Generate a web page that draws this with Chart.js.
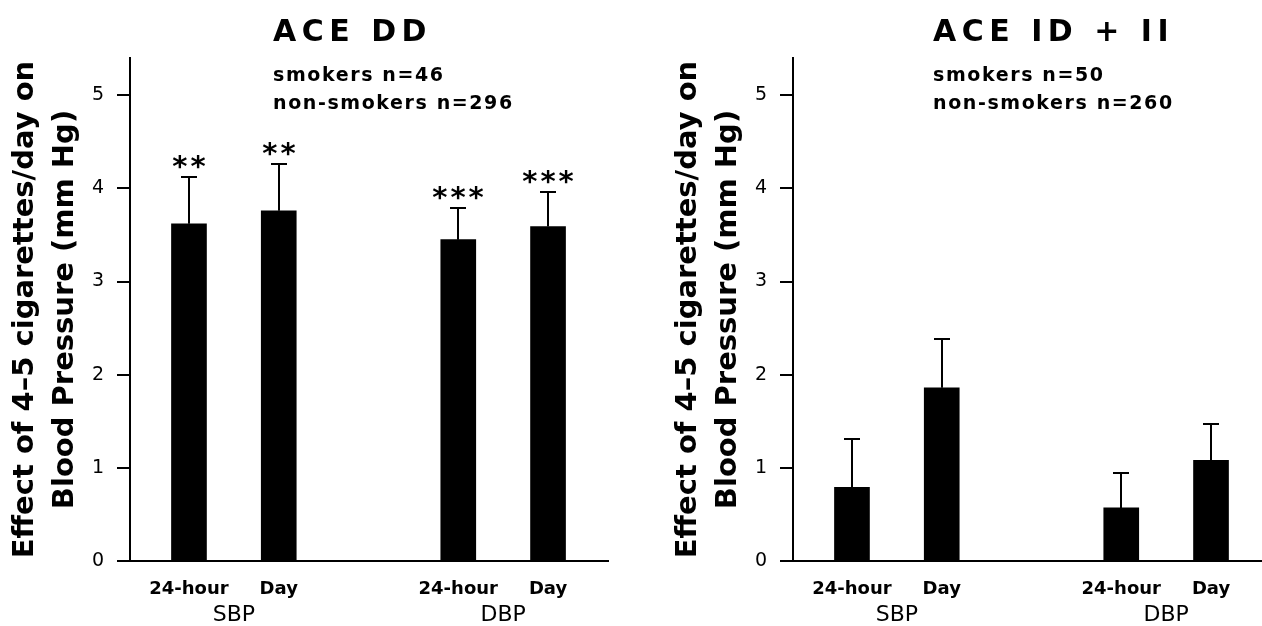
<!DOCTYPE html>
<html lang="en">
<head>
<meta charset="UTF-8">
<title>ACE genotype: effect of smoking on blood pressure</title>
<script src="https://cdn.jsdelivr.net/npm/chart.js"></script>
<style>
  body { margin: 0; background: #fff; }
  .wrap { display: flex; width: 1262px; height: 626px; }
  .panel { position: relative; height: 626px; }
  #left { width: 640px; }
  #right { width: 622px; }
</style>
</head>
<body>
<div class="wrap">
  <div class="panel" id="left"><canvas id="ddChart"></canvas></div>
  <div class="panel" id="right"><canvas id="idChart"></canvas></div>
</div>
<script>
const groups = ['SBP', 'DBP'];
const categories = ['24-hour', 'Day', '24-hour', 'Day'];
const slots = [0, 1, 3, 4];   // one empty slot between SBP and DBP
const yTicks = [0, 1, 2, 3, 4, 5];
const yTitle = ['Effect of 4\u20135 cigarettes/day on', 'Blood Pressure (mm Hg)'];

const ddMeans = [3.62, 3.76, 3.45, 3.59];
const ddErrors = [0.50, 0.50, 0.34, 0.37];
const ddStars = ['**', '**', '***', '***'];
const ddNotes = ['smokers n=46', 'non-smokers n=296'];

const idMeans = [0.79, 1.86, 0.57, 1.08];
const idErrors = [0.52, 0.52, 0.37, 0.39];
const idStars = ['', '', '', ''];
const idNotes = ['smokers n=50', 'non-smokers n=260'];

Chart.defaults.font.family = '"DejaVu Sans", sans-serif';
Chart.defaults.color = '#000';

// error bars, stars, panel title and group sizes
function extras(title, means, errors, stars, notes, textX) {
  return {
    id: 'extras',
    afterDatasetsDraw(chart) {
      const ctx = chart.ctx, x = chart.scales.x, y = chart.scales.y;
      ctx.save();
      ctx.strokeStyle = '#000';
      ctx.lineWidth = 2;
      means.forEach((m, i) => {
        const px = Math.round(x.getPixelForValue(slots[i]));
        const top = Math.round(y.getPixelForValue(m + errors[i]));
        ctx.beginPath();
        ctx.moveTo(px, y.getPixelForValue(m));
        ctx.lineTo(px, top);
        ctx.moveTo(px - 8, top);
        ctx.lineTo(px + 8, top);
        ctx.stroke();
        if (stars[i]) {
          ctx.font = 'bold 29px "DejaVu Sans"';
          ctx.letterSpacing = '3px';
          ctx.textAlign = 'center';
          ctx.textBaseline = 'alphabetic';
          ctx.fillStyle = '#000';
          ctx.fillText(stars[i], px + 1.5, top - 1);
        }
      });
      ctx.textAlign = 'left';
      ctx.textBaseline = 'alphabetic';
      ctx.fillStyle = '#000';
      ctx.font = 'bold 30px "DejaVu Sans"';
      ctx.letterSpacing = '5.5px';
      ctx.fillText(title, textX, 41);
      ctx.font = 'bold 19px "DejaVu Sans"';
      ctx.letterSpacing = '1.6px';
      ctx.fillText(notes[0], textX, 81);
      ctx.fillText(notes[1], textX, 109);
      ctx.restore();
    }
  };
}

function makeChart(id, title, means, errors, stars, notes, textX, xMax, padLeft, padRight) {
  const xMin = -0.657;
  return new Chart(document.getElementById(id), {
    type: 'bar',
    data: {
      datasets: [{
        data: means.map((v, i) => ({ x: slots[i], y: v })),
        backgroundColor: '#000',
        borderWidth: 0,
        barThickness: 35
      }]
    },
    options: {
      responsive: true,
      maintainAspectRatio: false,
      animation: false,
      layout: { padding: { top: 58, left: padLeft, right: padRight, bottom: 0 } },
      plugins: { legend: { display: false }, tooltip: { enabled: false } },
      scales: {
        x: {
          type: 'linear', min: xMin, max: xMax, weight: 0, offset: false,
          grid: { display: false, drawTicks: false, tickLength: 0 },
          border: { display: true, color: '#000', width: 2 },
          afterBuildTicks: s => { s.ticks = slots.map(v => ({ value: v })); },
          ticks: {
            autoSkip: false, maxRotation: 0, padding: 18,
            font: { size: 18, weight: 'bold' },
            callback: v => categories[slots.indexOf(v)]
          },
          afterFit: s => { s.height = 40; }
        },
        x2: {
          type: 'linear', position: 'bottom', min: xMin, max: xMax, weight: 1, offset: false,
          grid: { display: false, drawTicks: false, tickLength: 0 },
          border: { display: false },
          afterBuildTicks: s => {
            s.ticks = groups.map((g, i) => ({ value: (slots[i * 2] + slots[i * 2 + 1]) / 2 }));
          },
          ticks: {
            autoSkip: false, maxRotation: 0, padding: 1,
            font: { size: 22 },
            callback: (v, i) => groups[i]
          },
          afterFit: s => { s.height = 25; }
        },
        y: {
          min: 0, max: 5.4,
          afterBuildTicks: s => { s.ticks = yTicks.map(v => ({ value: v })); },
          grid: { drawOnChartArea: false, drawTicks: true, tickLength: 13, color: '#000', lineWidth: 2 },
          border: { display: true, color: '#000', width: 2 },
          ticks: { padding: 13, font: { size: 19 } },
          title: {
            display: true,
            text: yTitle,
            font: { size: 29, weight: 'bold', lineHeight: 1.38 },
            padding: { top: 5, bottom: 0 }
          },
          afterFit: s => { s.width = 130; }
        }
      }
    },
    plugins: [extras(title, means, errors, stars, notes, textX)]
  });
}

makeChart('ddChart', 'ACE DD', ddMeans, ddErrors, ddStars, ddNotes, 273, 4.668, 0, 32);
makeChart('idChart', 'ACE ID + II', idMeans, idErrors, idStars, idNotes, 293, 4.568, 23, 0);
</script>
</body>
</html>
